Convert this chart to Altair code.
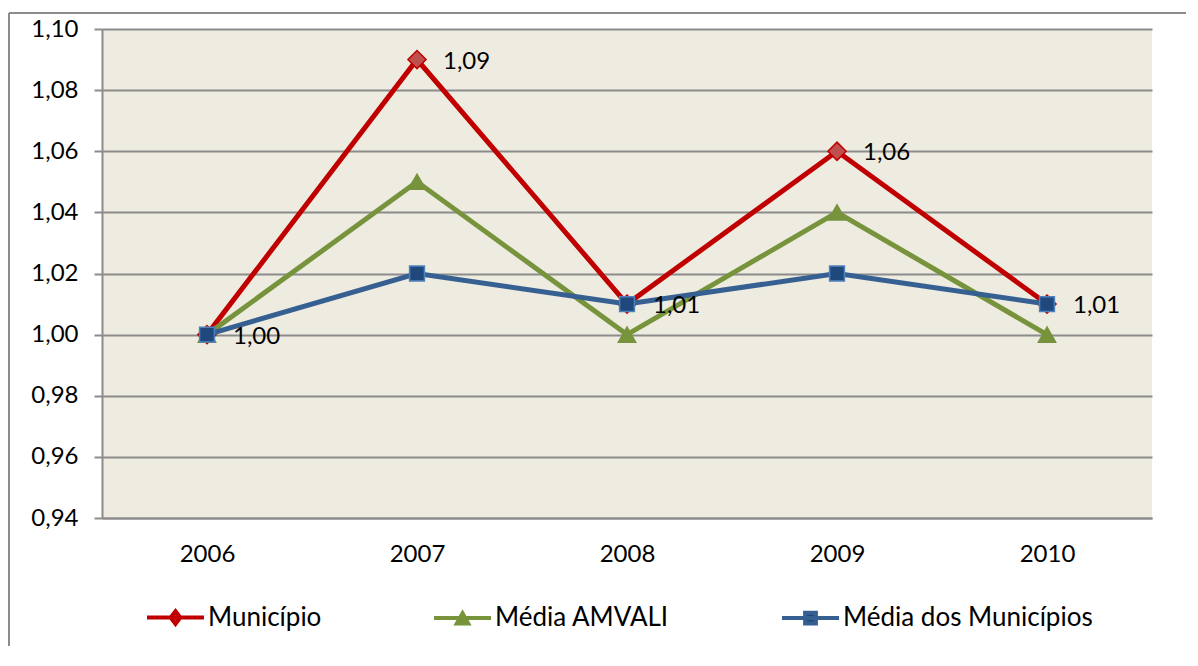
import altair as alt
import pandas as pd

years = ["2006", "2007", "2008", "2009", "2010"]
municipio = [1.00, 1.09, 1.01, 1.06, 1.01]
media_amvali = [1.00, 1.05, 1.00, 1.04, 1.00]
media_municipios = [1.00, 1.02, 1.01, 1.02, 1.01]
series_names = ["Município", "Média AMVALI", "Média dos Municípios"]
y_ticks = [0.94, 0.96, 0.98, 1.00, 1.02, 1.04, 1.06, 1.08, 1.10]

line_colors = ["#C00000", "#77933C", "#376092"]
marker_fill = ["#C0504D", "#77933C", "#1F497D"]
marker_stroke = ["#C00000", "#77933C", "#4F81BD"]
marker_shape = ["diamond", "triangle-up", "square"]
marker_size = [330, 300, 220]

# legend symbols: a line segment with the marker in the middle
legend_paths = [
    "M-1,0H1M0,-0.22L0.17,0L0,0.22L-0.17,0Z",
    "M-1,0H1M0,-0.16L0.2,0.2L-0.2,0.2Z",
    "M-1,0H1M-0.19,-0.19H0.19V0.19H-0.19Z",
]

rows = []
for name, vals in zip(series_names, [municipio, media_amvali, media_municipios]):
    for yr, v in zip(years, vals):
        rows.append({"Ano": yr, "Valor": v, "Serie": name})
df = pd.DataFrame(rows)

FONT = "Lato"
FS = 24
LFS = 26

x_enc = alt.X(
    "Ano:N",
    sort=years,
    title=None,
    axis=alt.Axis(
        labelAngle=0,
        ticks=False,
        domainColor="#8C8C8C",
        domainWidth=2,
        labelPadding=24,
        labelFontSize=FS,
        labelFont=FONT,
        labelColor="#000000",
        grid=False,
    ),
)
y_enc = alt.Y(
    "Valor:Q",
    title=None,
    scale=alt.Scale(domain=[0.94, 1.10], nice=False, zero=False),
    axis=alt.Axis(
        values=y_ticks,
        labelExpr="replace(format(datum.value, '.2f'), '.', ',')",
        grid=True,
        gridColor="#8C8C8C",
        gridWidth=2,
        domainColor="#8C8C8C",
        domainWidth=2,
        tickColor="#8C8C8C",
        tickWidth=2,
        tickSize=8,
        labelPadding=16,
        labelFontSize=FS,
        labelFont=FONT,
        labelColor="#000000",
    ),
)

base = alt.Chart(df)
one_row = base.transform_filter("datum.Serie == 'Município' && datum.Ano == '2006'")

# outer chart frame (decoration): top and left edges, kept inside the canvas
frame_top = one_row.mark_rule(color="#8C8C8C", strokeWidth=2).encode(
    x=alt.value(-93), x2=alt.value(1084), y=alt.value(-16)
)
frame_left = one_row.mark_rule(color="#8C8C8C", strokeWidth=2).encode(
    x=alt.value(-93), y=alt.value(-16), y2=alt.value(617)
)

layers = [frame_top, frame_left]
for i, name in enumerate(series_names):
    sub = base.transform_filter(alt.datum.Serie == name)
    layers.append(
        sub.mark_line(color=line_colors[i], strokeWidth=5).encode(x=x_enc, y=y_enc)
    )
    layers.append(
        sub.mark_point(
            shape=marker_shape[i],
            filled=True,
            fill=marker_fill[i],
            stroke=marker_stroke[i],
            strokeWidth=1.5,
            size=marker_size[i],
            opacity=1,
        ).encode(x=x_enc, y=y_enc)
    )

labels = (
    base.transform_filter(alt.datum.Serie == series_names[0])
    .transform_calculate(Rotulo="replace(format(datum.Valor, '.2f'), '.', ',')")
    .mark_text(align="left", baseline="middle", dx=26, dy=2, fontSize=FS, font=FONT, color="#000000")
    .encode(x=x_enc, y=y_enc, text="Rotulo:N")
)
layers.append(labels)

leg = alt.Legend(
    title=None,
    orient="none",
    direction="horizontal",
    legendX=43,
    legendY=558,
    symbolSize=3249,
    symbolStrokeWidth=4,
    labelFontSize=LFS,
    labelFont=FONT,
    labelColor="#000000",
    labelLimit=400,
    labelOffset=2,
    columnPadding=104,
)
legend_layer = (
    base.transform_filter("false")
    .mark_point(filled=True, opacity=1)
    .encode(
        x=x_enc,
        y=y_enc,
        shape=alt.Shape("Serie:N", scale=alt.Scale(domain=series_names, range=legend_paths), legend=leg),
        stroke=alt.Stroke("Serie:N", scale=alt.Scale(domain=series_names, range=line_colors), legend=leg),
        fill=alt.Fill("Serie:N", scale=alt.Scale(domain=series_names, range=marker_fill), legend=leg),
    )
)
layers.append(legend_layer)

chart = (
    alt.layer(*layers)
    .properties(
        width=1050,
        height=489,
        autosize=alt.AutoSizeParams(type="none"),
        padding={"left": 94, "top": 21, "right": 36, "bottom": 130},
    )
    .configure(background="#FFFFFF")
    .configure_view(fill="#EEEBE0", stroke=None)
)

chart.save("out.html", embed_options={"renderer": "svg", "actions": False})
